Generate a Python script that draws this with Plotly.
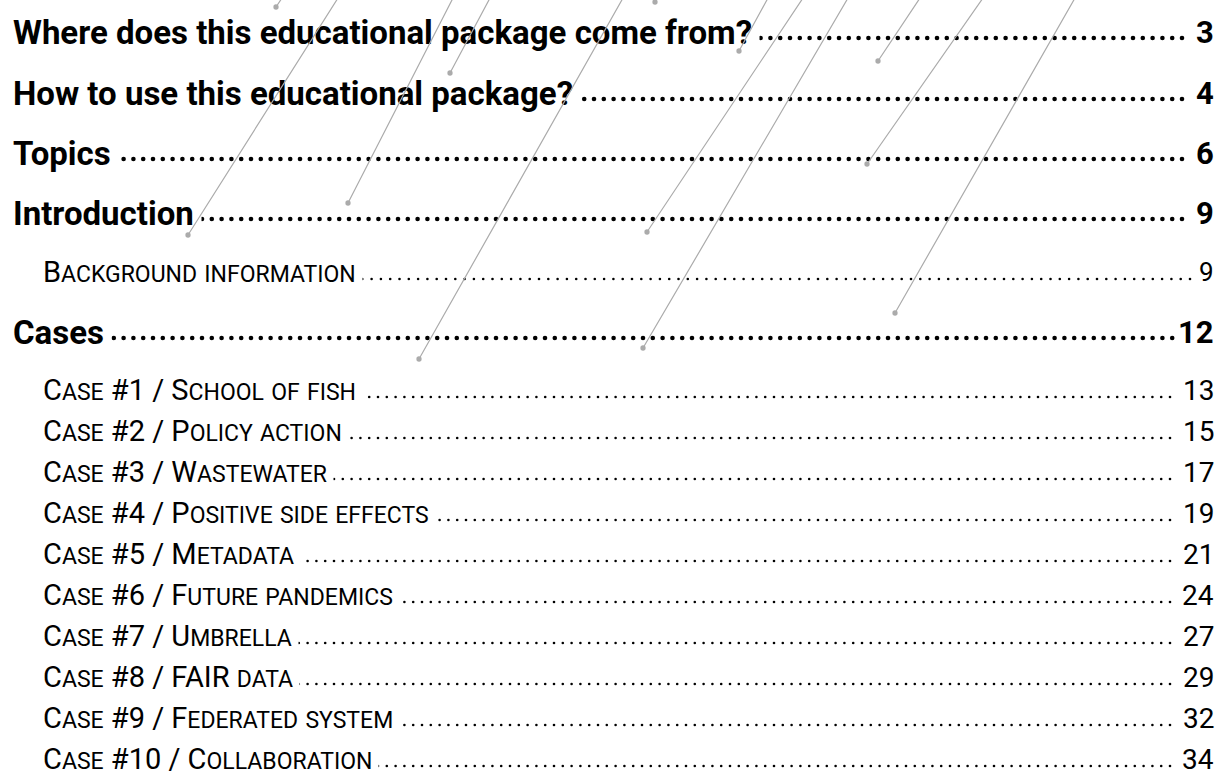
import numpy as np
import plotly.graph_objects as go

# ---------------- data ----------------
titles = [
    "Where does this educational package come from?",
    "How to use this educational package?",
    "Topics",
    "Introduction",
    "Background information",
    "Cases",
    "Case #1 / School of fish",
    "Case #2 / Policy action",
    "Case #3 / Wastewater",
    "Case #4 / Positive side effects",
    "Case #5 / Metadata",
    "Case #6 / Future pandemics",
    "Case #7 / Umbrella",
    "Case #8 / FAIR data",
    "Case #9 / Federated system",
    "Case #10 / Collaboration",
]
pages = [3, 4, 6, 9, 9, 12, 13, 15, 17, 19, 21, 24, 27, 29, 32, 34]
levels = ["h1", "h1", "h1", "h1", "h2b", "h1", "h2", "h2", "h2", "h2", "h2", "h2", "h2", "h2", "h2", "h2"]

# decorative diagonal lines: top end (x, y) and dotted end (x, y), pixel units
line_top_x = [282, 338, 453, 490, 623, 660, 768, 803, 848, 920, 983, 1075]
line_top_y = [-2, -2, -2, -2, -2, -6, -2, -2, -2, -2, -2, -2]
line_end_x = [276, 188, 348, 450, 419, 655, 739, 647, 643, 878, 867, 895]
line_end_y = [7, 235, 203, 73, 359, 2, 51, 232, 348, 61, 164, 313]

# ---------------- layout / style ----------------
W, H = 1227, 776
row_y = [32, 93, 153, 213, 272, 332, 390, 431, 472, 513, 554, 595, 636, 677, 718, 759]

FONT = "Roboto, 'Open Sans', sans-serif"
styles = {
    "h1": dict(x=5, size=33, small=33, bold=True, num_size=31, dot=4.6, gap=9.8,
               dot_end=1182, dot_dy=6, pad=7),
    "h2": dict(x=36, size=29, small=23, bold=False, num_size=28, dot=2.6, gap=8.8,
               dot_end=1170, dot_dy=7, pad=6),
    "h2b": dict(x=36, size=29, small=23, bold=False, num_size=26, dot=2.6, gap=9.3,
                dot_end=1190, dot_dy=7, pad=6),
}
NUM_RIGHT = 1217
LINE_COLOR = "#ababab"


def small_caps(text, small):
    out, run = [], ""
    for ch in text:
        if ch.islower():
            run += ch.upper()
        else:
            if run:
                out.append(f'<span style="font-size:{small}px">{run}</span>')
                run = ""
            out.append(ch)
    if run:
        out.append(f'<span style="font-size:{small}px">{run}</span>')
    return "".join(out)


fig = go.Figure()

# leader dots (drawn first, labels with white boxes hide the part under the text)
for key in styles:
    st = styles[key]
    xs, ys = [], []
    for t, lv, y in zip(titles, levels, row_y):
        if lv != key:
            continue
        pts = np.arange(st["dot_end"], st["x"] + 30, -st["gap"])
        xs.extend(pts.tolist())
        ys.extend([y + st["dot_dy"]] * len(pts))
    fig.add_trace(go.Scatter(
        x=xs, y=ys, mode="markers",
        marker=dict(size=st["dot"], color="#000000", line=dict(width=0)),
        hoverinfo="skip", showlegend=False,
    ))

annotations = []
for t, p, lv, y in zip(titles, pages, levels, row_y):
    st = styles[lv]
    if st["bold"]:
        label = f"<b>{t}</b>"
        num = f"<b>{p}</b>"
    else:
        label = small_caps(t, st["small"])
        num = str(p)
    annotations.append(dict(
        x=st["x"], y=y, xref="x", yref="y", xanchor="left", yanchor="middle",
        text=label, showarrow=False, bgcolor="#ffffff", borderpad=st["pad"],
        font=dict(family=FONT, size=st["size"], color="#000000"),
    ))
    annotations.append(dict(
        x=NUM_RIGHT, y=y, xref="x", yref="y", xanchor="right", yanchor="middle",
        text=num, showarrow=False, bgcolor="#ffffff", borderpad=2,
        font=dict(family=FONT, size=st["num_size"], color="#000000"),
    ))

# decorative gray lines ending in a small dot, on top of everything
for x0, y0, x1, y1 in zip(line_top_x, line_top_y, line_end_x, line_end_y):
    annotations.append(dict(
        x=x1, y=y1, ax=x0, ay=y0, xref="x", yref="y", axref="x", ayref="y",
        text="", showarrow=True, arrowhead=6, arrowsize=1.1, arrowwidth=1.2,
        arrowcolor=LINE_COLOR, standoff=0, startstandoff=0,
    ))

fig.update_layout(
    width=W, height=H,
    margin=dict(l=0, r=0, t=0, b=0),
    paper_bgcolor="#ffffff", plot_bgcolor="#ffffff",
    showlegend=False,
    annotations=annotations,
    xaxis=dict(range=[0, W], visible=False, fixedrange=True),
    yaxis=dict(range=[H, 0], visible=False, fixedrange=True),
)

fig.write_html(
    "out.html",
    config={"displayModeBar": False, "staticPlot": True},
    post_script="document.body.style.margin='0';document.body.style.overflow='hidden';",
)
